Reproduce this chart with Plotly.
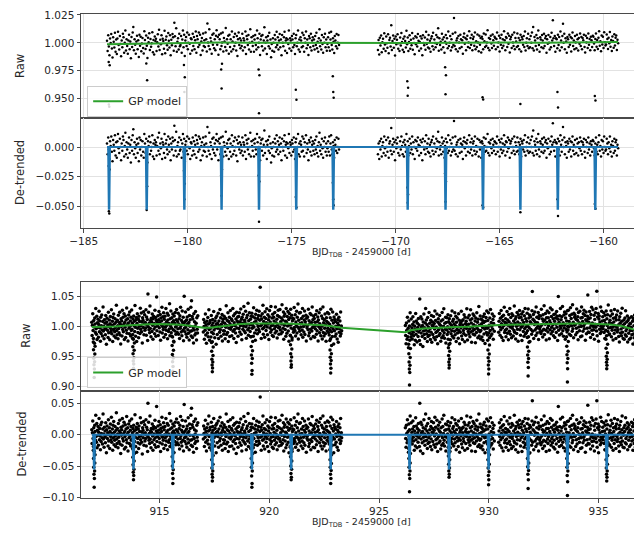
import numpy as np
import plotly.graph_objects as go

# ---------------- TOP DATA (sector A, 30-min cadence) ----------------
top_seg1_start, top_seg1_end = -183.88, -172.72
top_seg2_start, top_seg2_end = -170.85, -159.30

# de-trended residuals (ppt)
top_seg1_resid = [
 3,-6,8,-2,-10,5,1,9,-4,-12,6,2,-3,10,-7,4,-9,5,11,-1,
 -5,7,0,-11,3,-3,9,6,-8,1,12,-6,4,-2,-9,3,8,-5,2,-13,
 6,-3,10,15,-6,4,-1,-9,2,7,-5,3,-12,8,-2,6,-7,0,5,-4,
 -9,11,3,-5,7,-2,-13,5,1,9,-6,4,-3,0,10,-8,3,-10,6,2,
 4,-7,1,8,-3,12,-6,3,-1,7,-10,4,2,-5,11,-9,3,6,-2,-6,
 9,2,-4,7,-11,3,-2,8,5,-7,18,6,-3,13,-8,1,4,-6,8,-3,
 -2,6,-9,3,11,-4,7,-12,2,5,-3,9,-6,0,7,-1,-10,4,3,-7,
 8,-3,5,-6,2,10,-9,6,3,-4,9,-2,7,-11,1,4,-7,8,-3,2,
 -4,9,3,-8,17,0,-3,12,-6,4,1,-10,7,-2,8,-5,3,-7,6,11,
 -2,5,-11,7,3,-6,8,-3,0,9,-8,4,1,-4,13,-7,3,-1,6,-10,
 7,-4,3,-8,10,1,-6,5,-3,8,0,-7,6,-12,3,9,-2,4,-5,2,
 -3,8,-7,4,2,-4,10,-10,6,3,-2,7,-6,0,12,-8,5,1,-3,6,
 -8,3,7,-2,-6,11,4,-4,0,8,-11,3,6,-3,7,-7,2,14,-5,0,
 5,-10,2,6,-3,9,-5,3,-13,-1,-7,4,0,-8,7,3,-4,10,-2,5,
 -6,2,8,-4,3,-11,7,0,-3,5,10,-7,2,4,-9,3,-1,11,-5,4,
 2,-7,6,3,-4,8,-2,-10,4,7,-3,0,11,-6,3,-8,5,2,-4,9,
 -3,7,-8,4,0,10,-5,3,-2,-11,6,4,-4,8,-7,2,5,-3,3,-6,
 6,-2,9,-5,1,-8,4,12,-3,2,-6,7,-1,-9,5,0,8,-4,3,-7,
 -1,5,-4,9,-7,3,10,-2,-6,4,1,-9,6,2,-3,8,-5,0,7,-2,
]
top_seg2_resid = [
 -6,3,-10,5,-2,7,-8,1,4,-5,9,-1,-7,6,0,-4,8,-9,3,5,
 -3,16,-6,2,7,-4,4,-11,6,-1,3,8,-5,0,-7,5,-2,9,1,-6,
 4,-8,6,2,-4,11,-1,5,-7,1,7,-5,3,-2,9,-6,4,0,-10,6,
 -1,5,-3,8,2,-7,1,6,-5,4,-11,7,0,-2,5,-6,10,-1,3,-4,
 7,-5,2,-8,4,6,-3,9,-6,3,0,-4,7,-1,5,13,-7,4,-2,1,
 -6,8,3,-4,5,-9,1,7,-1,4,-5,10,-3,0,6,-7,3,-4,8,-2,
 22,-3,9,-6,2,4,-8,6,0,-5,7,3,-4,2,-10,5,8,-1,4,-7,
 3,6,-4,0,10,-5,4,-2,7,-7,3,5,-3,9,-6,1,-4,7,0,-8,
 6,-2,4,-9,5,3,-6,8,1,-4,7,-3,0,11,-5,4,-7,3,6,-1,
 -5,7,2,-3,5,4,-6,3,9,-4,0,6,-8,4,-2,7,-5,3,-3,10,
 2,-7,5,4,-4,8,-1,6,-9,3,5,-5,7,0,-3,9,-6,4,1,-4,
 8,-3,4,-6,2,7,-8,5,3,-2,6,-4,10,-7,0,4,-3,8,-5,3,
 -4,6,0,9,-5,14,-7,5,2,-3,7,-6,4,11,-2,-8,5,3,-4,7,
 2,-5,8,-3,4,6,-9,3,-1,7,0,-6,5,-4,9,2,20,4,-3,6,
 -8,4,3,-5,7,-2,5,-7,10,2,-4,6,17,0,8,-6,4,1,-9,5,
 3,-4,7,-2,5,-8,4,9,-3,2,-6,6,0,-5,7,3,-7,4,-1,8,
 -3,5,-6,4,2,7,-4,-9,6,0,4,-5,8,-2,3,-7,5,2,-4,6,
 5,-1,-7,3,8,-4,2,-6,4,10,-3,1,-8,6,-2,5,-5,9,0,-3,
 -2,7,3,-6,4,-1,9,-4,2,-8,5,1,-5,7,-3,4,6,-7,2,-1,
]
# in-transit points (time, residual ppt)
top_tr_t = [-183.80,-183.79,-183.77,-183.75, -181.99,-181.97,-181.95, -180.18,-180.16,-180.14,
            -178.39,-178.37,-178.35, -176.59,-176.57,-176.55, -174.80,-174.77, -173.02,-173.00,-172.98,
            -169.44,-169.42,-169.40, -167.62,-167.60,-167.58, -165.82,-165.79, -164.00,
            -162.22,-162.19, -160.42,-160.39]
top_tr_r = [-16,-54,-56,-19, -18,-53,-33, -20,-44,-31,
            -24,-41,-19, -24,-63,-29, -42,-51, -30,-44,-49,
            -34,-47,-40, -22,-46,-29, -49,-51, -55,
            -44,-58, -48,-52]
top_epochs = [-183.78, -181.97, -180.16, -178.37, -176.57, -174.78, -173.0,
              -169.42, -167.6, -165.8, -164.0, -162.2, -160.4]
top_depth = 0.052
top_gp_t = [-183.88, -182.5, -181.0, -180.0, -178.5, -177.0, -175.5, -174.0, -172.72,
            -170.85, -169.0, -167.5, -166.0, -164.5, -163.0, -161.5, -160.0, -159.3]
top_gp_f = [0.9988, 0.9993, 0.9998, 1.0002, 1.0003, 1.0001, 1.0000, 1.0001, 1.0000,
            0.9996, 0.9998, 1.0001, 1.0004, 1.0003, 1.0001, 1.0002, 1.0005, 1.0007]

# ---------------- BOTTOM DATA (sector B, faster cadence) ----------------
bot_segments = [(911.92, 916.75), (917.0, 923.3), (926.2, 930.25), (930.45, 936.75)]
bot_resid_A = [
 8,-14,3,22,-6,-19,11,0,-27,15,5,-9,31,-3,-12,18,-21,7,-1,13,
 -17,4,26,-8,10,-2,-24,16,-11,2,20,-5,-15,9,33,-7,1,-20,12,-4,
 6,-13,19,-1,-29,8,14,-6,3,-18,24,-10,0,11,-22,5,17,-3,-8,28,
 -12,2,9,-25,15,-5,21,-16,4,-9,13,-2,-19,7,35,-7,-14,10,1,-21,
 18,-4,-11,6,23,-15,3,-30,12,-1,8,-17,26,-6,14,-10,2,20,-23,5,
 -3,16,-20,9,-8,29,-13,1,11,-26,4,17,-5,-14,22,-2,7,-18,13,-9,
 25,-7,3,-16,10,-24,15,-1,6,-11,32,-4,-19,8,12,-28,2,18,-6,-13,
 9,-22,14,-3,5,-15,27,-8,-2,19,-12,4,-31,11,7,-5,21,-17,1,16,
 -10,3,-6,24,-18,12,-1,8,-27,50,-4,20,-9,2,-14,30,-7,6,-21,10,
 4,-12,17,-2,-25,9,13,-8,1,-16,23,-5,11,-20,6,45,-11,3,-3,14,
 -19,7,21,-6,2,-13,16,-27,10,-1,5,28,-15,-4,12,-9,19,-22,8,0,
 13,-5,-17,26,-10,4,-2,18,-24,7,15,-12,1,-8,34,-19,9,-3,22,-14,
 -6,11,3,-21,17,-9,6,-29,14,2,-11,20,-4,-16,8,25,-1,-13,5,-7,
 19,-16,1,10,-23,15,-6,29,-2,-12,7,-18,23,4,-9,13,-26,3,48,-5,
 -11,6,22,-3,-15,9,-20,14,2,-7,27,-13,5,-24,17,-1,10,-9,31,-17,
 42,-8,16,-19,12,-2,-28,21,-6,8,-14,1,25,-11,6,-22,15,-4,-10,19,
]
bot_resid_B = [
 -7,14,2,-19,9,-4,23,-12,5,-26,11,0,-9,17,-15,6,30,-3,-21,8,
 12,-1,-16,20,-8,3,-24,13,7,-11,26,-5,1,-18,10,-2,15,-29,4,18,
 -13,5,-3,22,-20,9,1,-10,28,-6,14,-17,3,-1,19,-25,7,11,-8,-14,
 16,-9,4,-22,12,-3,33,-15,0,8,-12,21,-27,6,-5,13,-19,2,24,-7,
 -4,10,-18,7,-1,27,-11,15,-23,3,-8,18,-2,-14,9,-30,20,-6,5,12,
 -20,2,13,-7,19,-13,4,-3,25,-17,8,-26,11,1,-9,16,-4,29,-12,6,
 3,-15,21,-5,-24,10,-1,14,-10,34,-19,5,-7,18,-2,-13,7,-22,12,0,
 17,-8,-3,11,-21,26,-6,2,-16,9,-28,15,4,-11,22,-1,-17,8,-5,13,
 -10,20,-14,5,60,-4,12,-25,7,-2,16,-9,30,-18,3,-7,10,-23,19,-3,
 8,-12,1,24,-6,-19,14,-1,6,-27,11,21,-8,2,-15,28,-4,-11,9,-20,
 15,-3,-22,10,4,-9,18,-16,27,-5,1,-13,7,-24,13,-2,22,-7,-18,11,
 -6,23,-11,3,-17,9,-1,31,-14,6,-8,19,-26,12,-3,16,-10,4,-21,25,
 2,-16,12,-4,20,-12,7,-29,17,-2,10,-19,24,-7,-1,14,-23,5,9,-9,
 -14,8,27,-6,-11,15,-20,3,-2,21,-15,11,-5,33,-25,6,-8,18,-12,1,
 19,-5,-18,9,2,-10,26,-22,13,-4,-13,7,22,-17,4,-1,15,-28,10,-6,
 -2,12,-9,25,-19,6,-14,1,18,-8,-24,16,3,-11,29,-5,8,-20,14,-3,
 10,-21,4,-7,17,-1,-16,23,-10,5,13,-27,8,-3,20,-13,2,-6,26,-18,
 -8,15,-2,-23,11,30,-12,4,-18,9,-5,19,-14,1,-26,13,7,-9,22,-4,
 5,-11,20,-15,3,-6,14,-21,28,-1,-9,10,-17,24,-4,6,-29,16,-7,12,
 -16,9,1,-12,21,-3,-20,7,13,-25,4,17,-8,-2,11,-14,26,-10,3,-5,
]
bot_resid_C = [
 11,-6,-20,15,2,-13,24,-9,5,-28,17,-3,8,-16,30,-1,-11,19,-7,4,
 -15,9,22,-4,-10,13,-25,6,1,-18,27,-8,14,-2,-21,10,3,-12,18,-5,
 7,-19,50,-1,-26,20,-7,3,16,-13,5,-30,11,-4,24,-10,1,-17,9,33,
 -3,14,-9,6,-22,18,-14,2,-5,26,-12,8,-1,-19,13,-7,21,-24,4,10,
 -11,3,19,-16,7,-2,28,-20,12,-8,1,-15,23,-6,-27,9,15,-3,-13,6,
 20,-10,4,-23,11,-1,-17,25,-5,13,-14,2,31,-9,-18,7,-3,17,-26,8,
 -4,16,-12,1,21,-8,9,-29,14,-2,6,-21,19,-11,3,-6,27,-15,10,-1,
 13,-18,5,-7,24,-13,2,18,-24,8,-4,15,-10,0,-19,22,-6,11,-28,4,
 -9,7,-2,26,-15,10,-21,3,12,-6,-11,20,-1,-25,16,5,-14,9,-3,30,
 2,-22,15,-8,4,-12,19,-4,-17,11,28,-9,6,-26,13,-1,-7,21,-13,3,
 18,-5,-14,9,-27,14,1,-10,23,-3,7,-19,12,-6,33,-16,2,-9,17,-21,
 -7,12,4,-18,10,-2,-24,16,6,-13,20,-5,-29,8,-1,14,-11,25,-4,-15,
 9,-3,22,-12,1,-20,13,-8,27,-17,5,-1,-14,19,-6,10,-23,3,15,-10,
]
bot_resid_D = [
 -12,6,19,-3,-17,11,-8,24,2,-21,14,-5,7,-26,16,-1,29,-13,4,-9,
 10,-20,3,-7,22,-14,8,-1,-25,17,5,-11,27,-4,-16,12,1,-22,18,-6,
 -2,15,-19,6,-10,31,-13,2,9,-24,13,-3,-15,20,-8,4,-28,16,-1,11,
 23,-9,1,-18,12,-5,17,-27,7,-2,21,-12,3,-20,14,-7,26,-16,9,-4,
 -14,5,18,-11,-3,25,-21,10,-6,15,-29,4,12,-9,1,-17,22,54,-12,8,
 16,-24,6,-1,20,-10,3,-19,28,-7,11,-15,2,-4,19,-26,9,14,-8,-13,
 -5,13,-16,24,-2,-12,8,-22,15,4,-9,30,-18,6,-1,17,-11,-27,10,2,
 21,-7,-14,10,-3,18,-25,5,-10,26,1,-17,12,-6,23,-13,-2,8,-20,15,
 -9,4,-23,16,9,-1,-15,20,-6,12,-28,7,45,-11,2,-19,13,-4,25,-8,
 6,-17,11,-3,28,-12,1,-21,14,-7,19,-2,-26,9,16,-10,4,-14,21,-5,
 -11,22,-6,3,-18,13,-1,26,-20,8,-4,15,-13,31,-9,2,-24,17,-3,10,
 14,-2,-19,7,-8,24,-15,5,11,-27,18,-6,1,-12,20,-1,-22,9,-5,27,
 -21,10,3,-13,16,-4,22,-9,-1,13,-28,6,19,-17,4,-8,12,47,-14,8,
 2,-15,20,-7,9,-23,15,-3,27,-11,1,-18,23,-5,-10,14,-26,7,-1,18,
 -6,25,-12,54,-20,11,-2,17,-29,8,13,-9,3,-16,28,-4,-13,21,-7,5,
 12,-8,-3,19,-14,6,-24,15,1,-10,22,-19,9,-2,16,-12,32,-6,-17,3,
 -16,7,14,-5,23,-20,2,-9,18,-4,-25,11,5,-14,26,-1,-8,13,-22,9,
 17,-3,-11,24,-7,1,-18,10,-27,15,4,-12,21,-5,-16,8,30,-10,2,-20,
 -1,11,-21,5,15,-13,27,-6,-15,9,-2,19,-24,12,3,-9,16,-19,7,-4,
 8,-16,2,20,-10,-3,13,-25,18,-8,6,-14,24,-1,-20,10,-5,15,-11,4,
]
bot_epochs = [912.03, 913.82, 915.61, 917.41, 919.21, 921.0, 922.8,
              926.39, 928.19, 929.99, 931.79, 933.58, 935.37]
bot_tr_offsets = [-0.04, -0.03, -0.02, -0.01, 0.0, 0.01, 0.02, 0.03, 0.04]
bot_tr_depths = [
 [-25,-38,-52,-63,-84,-70,-58,-45,-32],
 [-22,-36,-48,-60,-72,-65,-55,-42,-30],
 [-20,-35,-50,-62,-78,-70,-56,-43,-28],
 [-25,-40,-53,-63,-74,-68,-58,-47,-33],
 [-22,-38,-52,-66,-84,-78,-58,-45,-30],
 [-20,-35,-50,-62,-72,-68,-55,-42,-27],
 [-24,-40,-52,-63,-78,-70,-57,-46,-32],
 [-22,-38,-52,-64,-91,-70,-58,-45,-30],
 [-20,-34,-47,-58,-68,-63,-53,-40,-27],
 [-24,-40,-53,-65,-80,-72,-59,-47,-32],
 [-22,-38,-51,-63,-86,-72,-57,-45,-30],
 [-22,-38,-52,-65,-97,-75,-58,-46,-30],
 [-25,-40,-53,-63,-74,-68,-58,-47,-33],
]
bot_depth = 0.054
bot_gp_t = [911.92, 912.5, 913.0, 913.5, 914.0, 914.5, 915.0, 915.5, 916.0, 916.4, 916.75,
            917.0, 917.3, 917.7, 918.2, 918.7, 919.3, 919.9, 920.5, 921.0, 921.5, 922.0,
            922.5, 923.0, 923.3, 926.2, 926.5, 927.0, 927.5, 928.0, 928.5, 929.0, 929.5,
            930.0, 930.25, 930.45, 931.0, 931.5, 932.0, 932.5, 933.0, 933.5, 934.0, 934.5,
            935.0, 935.5, 936.0, 936.4, 936.75]
bot_gp_f = [0.9985, 0.9988, 0.9995, 1.0012, 1.0025, 1.0032, 1.0035, 1.0032, 1.0022, 1.0008, 0.9985,
            0.9972, 0.9975, 0.9995, 1.0018, 1.0035, 1.0045, 1.0048, 1.0045, 1.0040, 1.0035, 1.0028,
            1.0015, 0.9990, 0.9972, 0.9900, 0.9935, 0.9960, 0.9972, 0.9980, 0.9985, 0.9990, 0.9995,
            1.0005, 1.0015, 1.0020, 1.0025, 1.0030, 1.0035, 1.0040, 1.0043, 1.0045, 1.0046, 1.0045,
            1.0040, 1.0028, 1.0005, 0.9970, 0.9930]

top_xticks = [-185, -180, -175, -170, -165, -160]
bot_xticks = [915, 920, 925, 930, 935]
x_title = "BJD<sub>TDB</sub> - 2459000 [d]"
panel_titles = ["Raw", "De-trended", "Raw", "De-trended"]


def minus(s):
    return s.replace("-", "\u2212")


# ---------------- assemble ----------------
def seg_times(start, end, values):
    return np.linspace(start, end, len(values))


t1 = seg_times(top_seg1_start, top_seg1_end, top_seg1_resid)
t2 = seg_times(top_seg2_start, top_seg2_end, top_seg2_resid)
top_t = np.concatenate([t1, t2, np.array(top_tr_t)])
top_r = np.concatenate([top_seg1_resid, top_seg2_resid, top_tr_r]) / 1000.0
top_gp_at = np.interp(top_t, top_gp_t, top_gp_f)
top_raw = top_gp_at * (1 + top_r)

bot_lists = [bot_resid_A, bot_resid_B, bot_resid_C, bot_resid_D]
bt = [seg_times(s, e, v) for (s, e), v in zip(bot_segments, bot_lists)]
tr_t = [ep + o for ep in bot_epochs for o in bot_tr_offsets]
tr_r = [d for row in bot_tr_depths for d in row]
bot_t = np.concatenate(bt + [np.array(tr_t)])
bot_r = np.concatenate([np.array(v) for v in bot_lists] + [np.array(tr_r)]) / 1000.0
bot_gp_at = np.interp(bot_t, bot_gp_t, bot_gp_f)
bot_raw = bot_gp_at * (1 + bot_r)


def transit_line(start, end, epochs, depth, half_total=0.045, half_flat=0.012):
    xs, ys = [start], [0.0]
    for e in epochs:
        xs += [e - half_total, e - half_flat, e + half_flat, e + half_total]
        ys += [0.0, -depth, -depth, 0.0]
    xs.append(end)
    ys.append(0.0)
    return xs, ys


top_mx, top_my = transit_line(top_seg1_start, top_seg2_end, top_epochs, top_depth)
bot_mx, bot_my = transit_line(bot_segments[0][0], bot_segments[-1][1], bot_epochs, bot_depth)

GREEN = "#2ca02c"
BLUE = "#1f77b4"
FONT = "DejaVu Sans"
TXT = "#262626"

fig = go.Figure()
mk_top = dict(color="black", size=2.5)
mk_bot = dict(color="black", size=3.5)

fig.add_trace(go.Scatter(x=top_t, y=top_raw, mode="markers", marker=mk_top,
                         xaxis="x", yaxis="y", showlegend=False, hoverinfo="skip"))
fig.add_trace(go.Scatter(x=top_gp_t, y=top_gp_f, mode="lines", line=dict(color=GREEN, width=2),
                         name="GP model", xaxis="x", yaxis="y", legend="legend"))
fig.add_trace(go.Scatter(x=top_t, y=top_r, mode="markers", marker=mk_top,
                         xaxis="x2", yaxis="y2", showlegend=False, hoverinfo="skip"))
fig.add_trace(go.Scatter(x=top_mx, y=top_my, mode="lines", line=dict(color=BLUE, width=2),
                         xaxis="x2", yaxis="y2", showlegend=False))

fig.add_trace(go.Scatter(x=bot_t, y=bot_raw, mode="markers", marker=mk_bot,
                         xaxis="x3", yaxis="y3", showlegend=False, hoverinfo="skip"))
fig.add_trace(go.Scatter(x=bot_gp_t, y=bot_gp_f, mode="lines", line=dict(color=GREEN, width=2),
                         name="GP model", xaxis="x3", yaxis="y3", legend="legend2"))
fig.add_trace(go.Scatter(x=bot_t, y=bot_r, mode="markers", marker=mk_bot,
                         xaxis="x4", yaxis="y4", showlegend=False, hoverinfo="skip"))
fig.add_trace(go.Scatter(x=bot_mx, y=bot_my, mode="lines", line=dict(color=BLUE, width=2),
                         xaxis="x4", yaxis="y4", showlegend=False))

axis_common = dict(showline=True, mirror=True, linecolor="#4a4a4a", linewidth=1,
                   showgrid=True, gridcolor="#e2e2e2", gridwidth=1, zeroline=False,
                   ticks="outside", ticklen=3.5, tickwidth=1, tickcolor="#4a4a4a",
                   automargin=False, ticklabeloverflow="allow",
                   tickfont=dict(family=FONT, size=10.5, color=TXT))

top_xr = [-185.13, -158.2]
bot_xr = [911.43, 936.93]

# The page body has an 8px default margin; margins below compensate so that
# the plotting area lands at the reference position in the window.
ML, MR, MT, MB = 73, 9, 6, 45
PW = 642 - ML - MR
PH = 535 - MT - MB
BOTTOM_PX = 535 + 8 - MB  # window y of the plot-area bottom


def frac(ypix):
    return (BOTTOM_PX - ypix) / PH


# panel domains from window pixel edges
dom_top_raw = [frac(118), 1.0]
dom_top_det = [frac(228), frac(118)]
dom_bot_raw = [frac(391), frac(281.7)]
dom_bot_det = [0.0, frac(391)]

annotations = []
# y-axis titles (rotated)
for txt, dom, xpix in zip(panel_titles, [dom_top_raw, dom_top_det, dom_bot_raw, dom_bot_det],
                          [20, 20, 26.5, 21]):
    annotations.append(dict(text=txt, textangle=-90, xref="paper", yref="paper",
                            x=(xpix - 81) / PW, y=(dom[0] + dom[1]) / 2,
                            xanchor="center", yanchor="middle", showarrow=False,
                            font=dict(family=FONT, size=11.5, color=TXT)))
# x-axis titles
for ypix in [253, 522.5]:
    annotations.append(dict(text=x_title, xref="paper", yref="paper",
                            x=0.5, y=frac(ypix),
                            xanchor="center", yanchor="middle", showarrow=False,
                            font=dict(family=FONT, size=9.5, color=TXT)))

legend_style = dict(xanchor="left", yanchor="bottom",
                    bgcolor="rgba(255,255,255,0.85)", bordercolor="#cccccc", borderwidth=1,
                    font=dict(family=FONT, size=11, color=TXT), tracegroupgap=0)

fig.update_layout(
    width=642, height=535,
    margin=dict(l=ML, r=MR, t=MT, b=MB, autoexpand=False),
    paper_bgcolor="white", plot_bgcolor="white",
    font=dict(family=FONT, size=10.5, color=TXT),
    xaxis=dict(axis_common, domain=[0, 1], anchor="y", range=top_xr, tickvals=top_xticks,
               showticklabels=False, ticks=""),
    xaxis2=dict(axis_common, domain=[0, 1], anchor="y2", range=top_xr, matches="x",
                tickvals=top_xticks, ticktext=[minus(str(v)) for v in top_xticks]),
    yaxis=dict(axis_common, domain=dom_top_raw, anchor="x", range=[0.9328, 1.0258],
               tickvals=[0.95, 0.975, 1.0, 1.025], ticktext=["0.950", "0.975", "1.000", "1.025"]),
    yaxis2=dict(axis_common, domain=dom_top_det, anchor="x2", range=[-0.0682, 0.0245],
                tickvals=[-0.05, -0.025, 0.0], ticktext=["\u22120.050", "\u22120.025", "0.000"]),
    xaxis3=dict(axis_common, domain=[0, 1], anchor="y3", range=bot_xr, tickvals=bot_xticks,
                showticklabels=False, ticks=""),
    xaxis4=dict(axis_common, domain=[0, 1], anchor="y4", range=bot_xr, matches="x3",
                tickvals=bot_xticks, ticktext=[str(v) for v in bot_xticks]),
    yaxis3=dict(axis_common, domain=dom_bot_raw, anchor="x3", range=[0.892, 1.074],
                tickvals=[0.90, 0.95, 1.00, 1.05], ticktext=["0.90", "0.95", "1.00", "1.05"]),
    yaxis4=dict(axis_common, domain=dom_bot_det, anchor="x4", range=[-0.101, 0.0697],
                tickvals=[-0.10, -0.05, 0.0, 0.05], ticktext=["\u22120.10", "\u22120.05", "0.00", "0.05"]),
    legend=dict(legend_style, x=0.011, y=frac(116.7)),
    legend2=dict(legend_style, x=0.011, y=frac(387.9)),
    annotations=annotations,
)

fig.write_html("out.html")
